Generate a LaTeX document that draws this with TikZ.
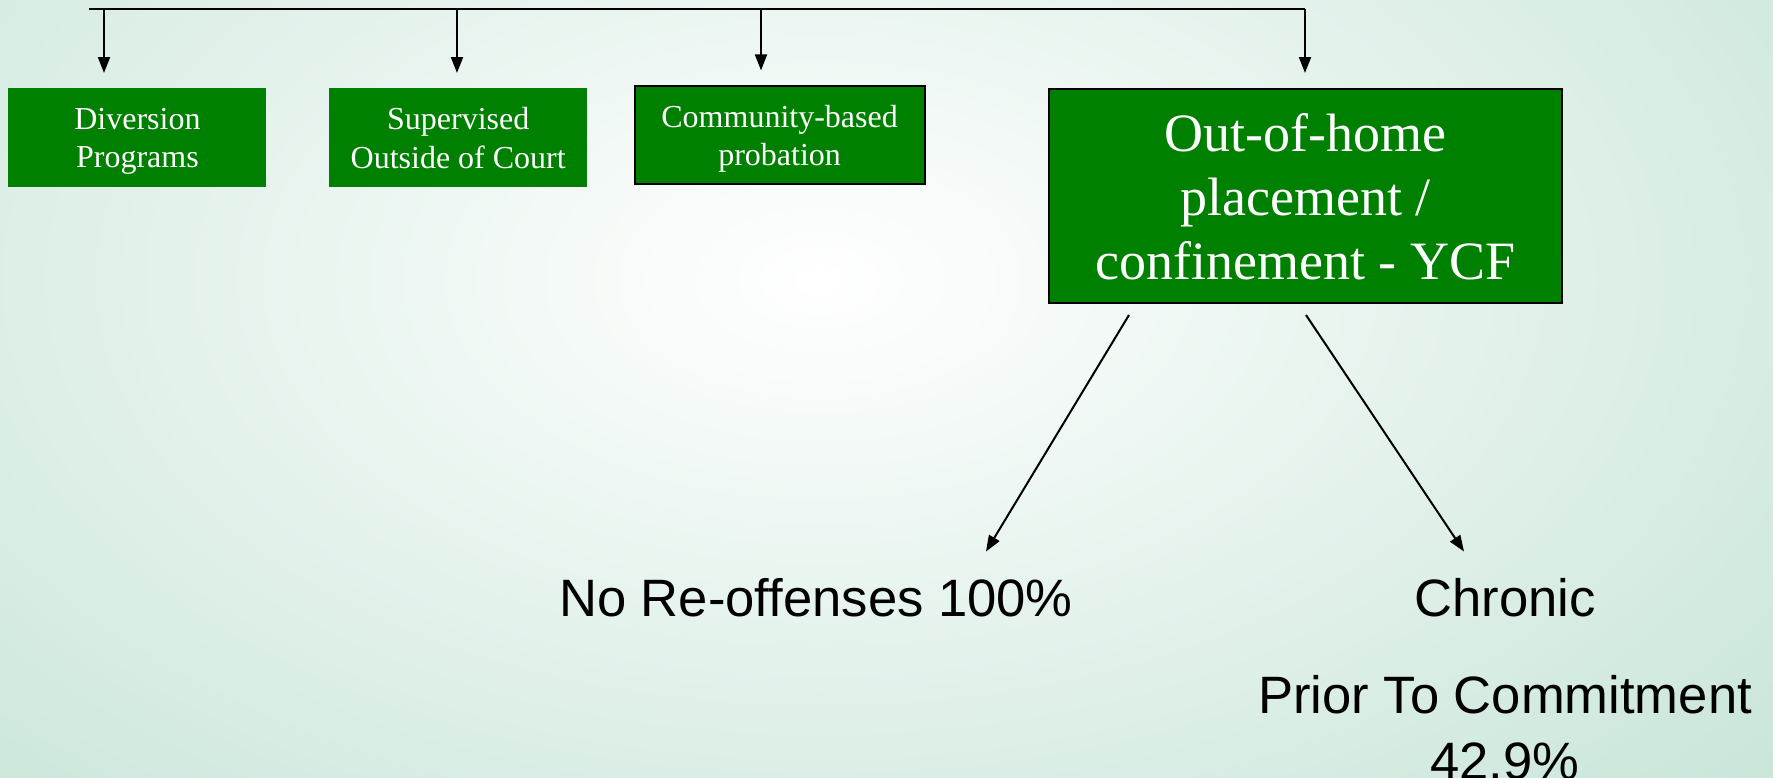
\documentclass[tikz,border=0pt]{standalone}
\usepackage{fontspec}
\setmainfont{Liberation Serif}
\newfontfamily\arialfont{Liberation Sans}
\usetikzlibrary{arrows.meta, positioning}
\definecolor{boxgreen}{RGB}{0,128,0}
\definecolor{bgmint}{RGB}{196,227,213}

\begin{document}
\begin{tikzpicture}[
    x=0.5pt, y=-0.5pt,
    box/.style={rectangle, fill=boxgreen, text=white, align=center, inner sep=0pt, text depth=0pt, minimum width=129pt, minimum height=49.5pt, font=\fontsize{16}{19.2}\selectfont},
    bigbox/.style={box, draw=black, line width=1pt, minimum width=256.5pt, minimum height=107pt, font=\fontsize{27}{32}\selectfont},
    result/.style={inner sep=0pt, align=center, font=\arialfont\fontsize{26.3}{33}\selectfont},
    arrow/.style={-{Triangle[length=8pt,width=6pt]}, line width=1pt}
]
    % background
    \useasboundingbox (0,0) rectangle (1773,777);
    \begin{scope}
        \clip (0,0) rectangle (1773,777);
        \fill[bgmint] (0,0) rectangle (1773,777);
        \shade[inner color=white, outer color=bgmint] (-580,-540) rectangle (2220,1100);
    \end{scope}

    % sanction boxes
    \node[box, anchor=north west] (dvr) at (8,88) {Diversion\\Programs};
    \node[box, right=31pt of dvr] (sup) {Supervised\\Outside of Court};
    \node[box, draw=black, line width=1pt, minimum width=145pt, minimum height=49pt, right=23pt of sup, yshift=1.25pt] (cbp) {Community-based\\probation};
    \node[bigbox, anchor=north west] (ycf) at (1048,88) {Out-of-home\\placement /\\confinement - YCF};

    % outcomes
    \node[result, anchor=base] (noreo) at (816,616) {No Re-offenses 100\%};
    \node[result, anchor=base] (chr) at (1505,616) {Chronic};
    \node[result, below=29pt of chr] (prior) {Prior To Commitment\\42.9\%};

    % branch line
    \coordinate (busL) at (89,9);
    \coordinate (busR) at (1305,9);
    \draw[line width=1.1pt] (busL) -- (busR);
    \foreach \x/\target [count=\i] in {104/dvr, 457/sup, 761/cbp, 1305/ycf} {
        \coordinate (tap\i) at (\x,9);
        \draw[arrow, shorten >=7.5pt] (tap\i) -- (tap\i |- \target.north);
    }

    \draw[arrow] ([shift={(-176.5,11)}]ycf.south) -- ([shift={(170,-26)}]noreo.north);
    \draw[arrow] ([shift={(0.5,11)}]ycf.south) -- ([shift={(-41,-26)}]chr.north);
\end{tikzpicture}
\end{document}
